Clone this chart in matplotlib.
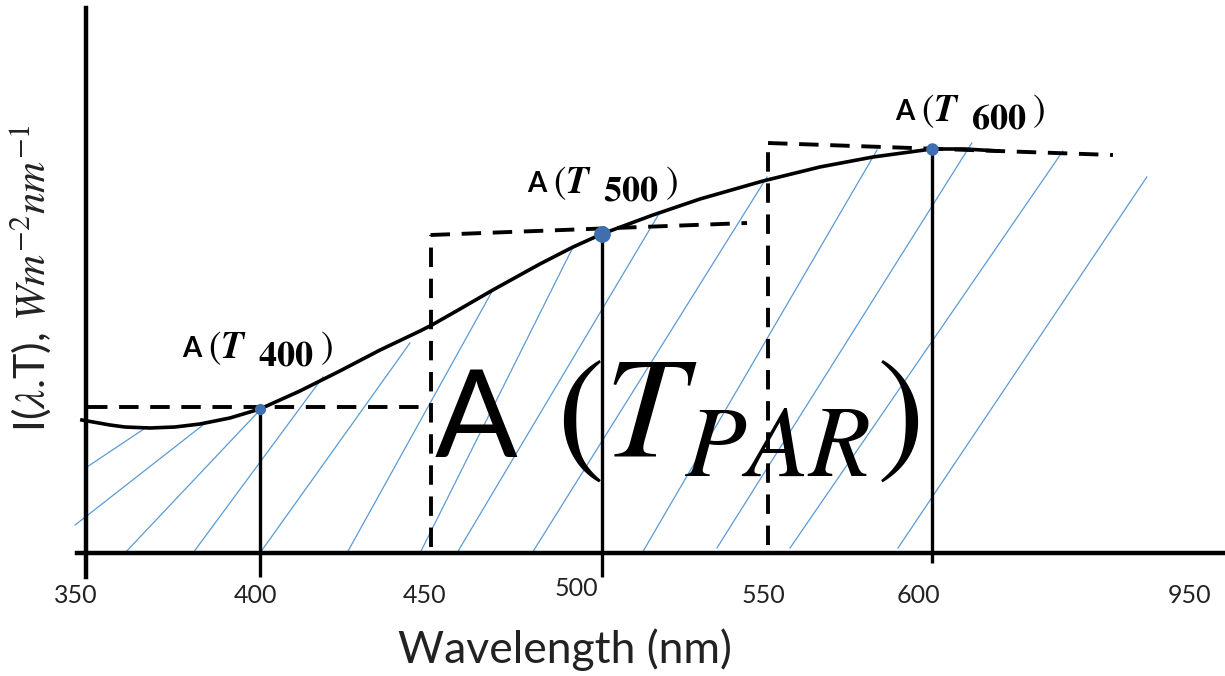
import matplotlib
matplotlib.use("Agg")
import matplotlib.pyplot as plt
from matplotlib.transforms import ScaledTranslation

# ---- spectral irradiance curve (wavelength in nm, intensity in arbitrary units) ----
curve_nm = [348.8, 357.1, 361.5, 368.9, 376.3, 383.7, 392.5, 401.4, 413.2, 425.0,
            436.9, 448.7, 452.2, 460.5, 470.2, 484.1, 493.9, 502.4, 517.5, 531.4,
            550.0, 566.8, 582.5, 599.9, 609.7, 619.4]
curve_I = [1.33, 1.28, 1.26, 1.25, 1.26, 1.29, 1.35, 1.44, 1.62, 1.82,
           2.03, 2.22, 2.28, 2.44, 2.63, 2.89, 3.06, 3.19, 3.38, 3.54,
           3.72, 3.86, 3.96, 4.04, 4.04, 4.02]

# sampled points A(T400), A(T500), A(T600)
sample_nm = [401.4, 502.4, 600.0]
sample_I = [1.44, 3.19, 4.04]
sample_drop = [-0.24, -0.24, -0.10]     # how far each drop line runs below the axis
sample_ms = [7, 11, 8]
sample_sub = ['400', '500', '600']
label_nm = [378.4, 480.3, 589.0]        # left edge / baseline of each "A (T..)" label
label_I = [1.96, 3.61, 4.33]

# dashed rectangle (step) approximation of the curve
step_x = [[350.6, 451.8], [451.8, 451.8], [451.8, 545.3], [551.5, 551.5], [551.5, 653.4]]
step_y = [[1.46, 1.46], [0.06, 3.18], [3.18, 3.30], [0.08, 4.10], [4.10, 3.98]]

# hatching under the curve: start / end of each stroke
hatch_x0 = [350.3, 346.8, 361.5, 381.6, 401.4, 427.1, 448.7, 459.6, 481.8, 514.3, 536.4, 558.0, 589.9]
hatch_y0 = [0.86, 0.28, 0.0, 0.0, 0.0, 0.0, 0.0, 0.0, 0.0, 0.0, 0.05, 0.05, 0.05]
hatch_x1 = [368.0, 385.7, 401.4, 420.0, 445.7, 470.2, 493.9, 519.6, 551.2, 583.7, 611.7, 638.6, 663.4]
hatch_y1 = [1.26, 1.31, 1.43, 1.76, 2.10, 2.63, 3.06, 3.41, 3.76, 4.03, 4.10, 4.02, 3.76]

# x tick labels (the axis is broken between 600 and 950)
tick_pos = [347, 400, 450, 495, 550, 596, 676]
tick_lab = ['350', '400', '450', '500', '550', '600', '950']

plt.rcParams['font.family'] = 'Lato'
plt.rcParams['mathtext.fontset'] = 'stix'

fig = plt.figure(figsize=(12.25, 6.76), dpi=100)
ax = fig.add_axes([0, 0, 1, 1])
ax.set_xlim(324.6, 686.5)
ax.set_ylim(-1.23, 5.53)

# axes drawn as spines through the origin
for side in ['top', 'right']:
    ax.spines[side].set_visible(False)
ax.spines['left'].set_position(('data', 350))
ax.spines['left'].set_bounds(-0.24, 5.45)
ax.spines['bottom'].set_position(('data', 0))
ax.spines['bottom'].set_bounds(347.3, 686.5)
for side in ['left', 'bottom']:
    ax.spines[side].set_linewidth(3.2)
    ax.spines[side].set_zorder(4)

ax.set_yticks([])
ax.set_xticks(tick_pos, tick_lab)
ax.tick_params(axis='x', length=0, pad=22, labelsize=18, labelcolor='#222222')
# the "500" label sits a little higher than the others
for lbl in ax.get_xticklabels():
    if lbl.get_text() == '500':
        lbl.set_transform(lbl.get_transform() + ScaledTranslation(0, 0.07, fig.dpi_scale_trans))

# hatching
for x0, y0, x1, y1 in zip(hatch_x0, hatch_y0, hatch_x1, hatch_y1):
    ax.plot([x0, x1], [y0, y1], color='#5B9BD5', lw=0.9, zorder=1)

# dashed step approximation
for xs, ys in zip(step_x, step_y):
    ax.plot(xs, ys, color='black', lw=2.8, linestyle=(0, (5.0, 3.0)), zorder=3)

# curve
ax.plot(curve_nm, curve_I, color='black', lw=2.6, zorder=3)

# drop lines and sample points
ax.vlines(sample_nm, sample_drop, sample_I, color='black', lw=2.4, zorder=3)
for x, y, ms in zip(sample_nm, sample_I, sample_ms):
    ax.plot(x, y, 'o', color='#3F6FAE', ms=ms, zorder=5)

# "A (T_xxx)" labels built from pieces so the subscript stays large
for x, y, sub in zip(label_nm, label_I, sample_sub):
    pieces = [('A', 0, 0, dict(fontsize=20, fontweight='bold')),
              (r'$(\mathbfit{T}$', 19, -1, dict(fontsize=27)),
              (r'$\mathbf{%s}$' % sub, 55, -6, dict(fontsize=26)),
              (r'$)$', 99, -1, dict(fontsize=27))]
    for s, dx, dy, kw in pieces:
        ax.annotate(s, (x, y), xytext=(dx, dy), textcoords='offset points',
                    ha='left', va='baseline', zorder=6, **kw)

# integrated PAR area label
ax.text(453.1, 0.96, 'A', ha='left', va='baseline', fontsize=88)
ax.text(489.0, 0.96, r'$(T_{PAR})$', ha='left', va='baseline', fontsize=104)

ax.set_xlabel('Wavelength (nm)', fontsize=32, color='#222222')
ax.xaxis.set_label_coords(0.461, 0.071)
ax.set_ylabel(r'I($\lambda$.T), $Wm^{-2}nm^{-1}$', fontsize=31, color='#222222')
ax.yaxis.set_label_coords(0.043, 0.589)

fig.savefig('out.png', dpi=100)
